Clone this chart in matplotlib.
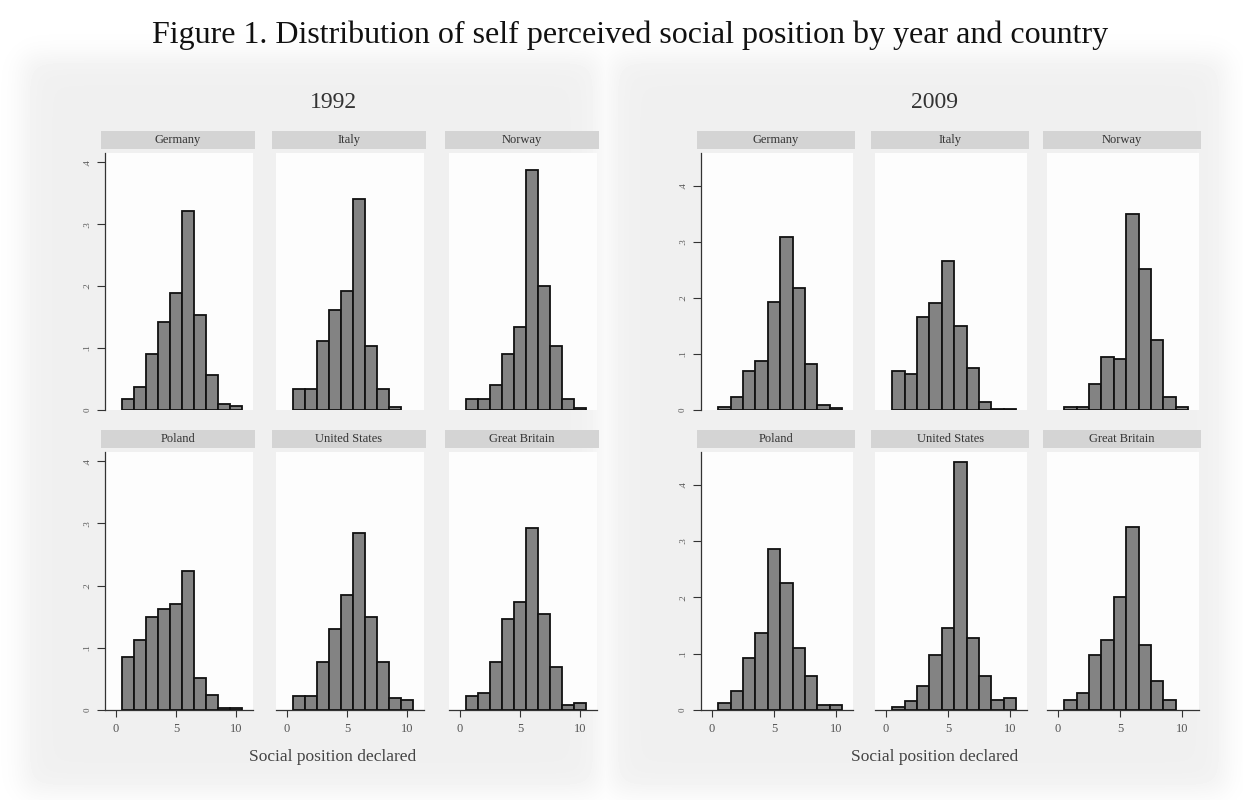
import numpy as np
import matplotlib.pyplot as plt

plt.rcParams['font.family'] = ['Liberation Serif', 'DejaVu Serif']

positions = np.arange(1, 11)
countries = ["Germany", "Italy", "Norway", "Poland", "United States", "Great Britain"]
years = ["1992", "2009"]

# density of answers 1..10, per country
germany_1992 = [0.017, 0.037, 0.091, 0.142, 0.189, 0.322, 0.153, 0.056, 0.009, 0.007]
italy_1992 = [0.034, 0.034, 0.111, 0.161, 0.192, 0.341, 0.103, 0.034, 0.005, 0.0]
norway_1992 = [0.017, 0.017, 0.041, 0.090, 0.134, 0.388, 0.200, 0.103, 0.017, 0.004]
poland_1992 = [0.085, 0.113, 0.150, 0.162, 0.171, 0.224, 0.051, 0.024, 0.004, 0.004]
usa_1992 = [0.023, 0.023, 0.077, 0.131, 0.185, 0.284, 0.150, 0.077, 0.019, 0.016]
britain_1992 = [0.023, 0.027, 0.077, 0.147, 0.174, 0.293, 0.154, 0.069, 0.008, 0.012]

germany_2009 = [0.006, 0.024, 0.069, 0.087, 0.192, 0.308, 0.218, 0.082, 0.009, 0.003]
italy_2009 = [0.069, 0.065, 0.166, 0.191, 0.265, 0.149, 0.074, 0.014, 0.001, 0.001]
norway_2009 = [0.005, 0.005, 0.047, 0.095, 0.091, 0.349, 0.251, 0.125, 0.024, 0.005]
poland_2009 = [0.013, 0.034, 0.093, 0.136, 0.285, 0.225, 0.110, 0.060, 0.009, 0.009]
usa_2009 = [0.005, 0.016, 0.043, 0.098, 0.145, 0.441, 0.128, 0.060, 0.018, 0.022]
britain_2009 = [0.018, 0.031, 0.098, 0.124, 0.200, 0.324, 0.115, 0.052, 0.018, 0.0]

data = {
    "1992": [germany_1992, italy_1992, norway_1992, poland_1992, usa_1992, britain_1992],
    "2009": [germany_2009, italy_2009, norway_2009, poland_2009, usa_2009, britain_2009],
}

yticks = [0, 0.1, 0.2, 0.3, 0.4]
ytick_labels = ["0", ".1", ".2", ".3", ".4"]
xticks = [0, 5, 10]

W, H = 1243, 800
fig = plt.figure(figsize=(W / 100, H / 100), dpi=100)
fig.patch.set_facecolor("white")


def rect(left, top, right, bottom):
    return [left / W, 1 - bottom / H, (right - left) / W, (bottom - top) / H]


# soft grey backdrop behind each year's graph
bg = fig.add_axes([0, 0, 1, 1], zorder=-10)
yy, xx = np.mgrid[0:H, 0:W]


def soft_box(x0, x1, y0, y1, s):
    fx = 1 / (1 + np.exp(-(xx - x0) / s)) * 1 / (1 + np.exp((xx - x1) / s))
    fy = 1 / (1 + np.exp(-(yy - y0) / s)) * 1 / (1 + np.exp((yy - y1) / s))
    return fx * fy


shade = np.maximum(soft_box(22, 600, 55, 792, 8), soft_box(610, 1226, 55, 792, 8))
img = 1 - 0.06 * shade
bg.imshow(img, cmap="gray", vmin=0, vmax=1, aspect="auto", extent=[0, W, H, 0])
bg.set_xlim(0, W)
bg.set_ylim(H, 0)
bg.axis("off")

fig.text(630 / W, 1 - 35 / H, "Figure 1. Distribution of self perceived social position by year and country",
         ha="center", va="center", fontsize=23, color="#111111")

layout = {
    "1992": dict(zeros=[116, 287, 460], unit=12.0, ytop=0.415, center=333),
    "2009": dict(zeros=[712, 886, 1058], unit=12.4, ytop=0.458, center=935),
}
rows = [(153, 410, 131, 149), (452, 710, 430, 448)]
xmin, xmax = -0.9, 11.4

for year in years:
    spec = layout[year]
    fig.text(spec["center"] / W, 1 - 102 / H, year, ha="center", va="center",
             fontsize=17, color="#333333")
    fig.text(spec["center"] / W, 1 - 757 / H, "Social position declared", ha="center",
             va="center", fontsize=12.5, color="#444444")
    for i, country in enumerate(countries):
        r, c = divmod(i, 3)
        top, bottom, htop, hbot = rows[r]
        left = spec["zeros"][c] + xmin * spec["unit"]
        right = spec["zeros"][c] + xmax * spec["unit"]

        # grey strip with the country name
        hx = fig.add_axes(rect(left - 4, htop, right + 2, hbot))
        hx.set_facecolor("#d4d4d4")
        hx.set_xticks([])
        hx.set_yticks([])
        for s in hx.spines.values():
            s.set_visible(False)
        hx.text(0.5, 0.5, country, ha="center", va="center", fontsize=9,
                color="#333333", transform=hx.transAxes)

        ax = fig.add_axes(rect(left, top, right, bottom))
        ax.set_facecolor("#fdfdfd")
        vals = np.array(data[year][i])
        keep = vals > 0
        ax.bar(positions[keep], vals[keep], width=1, color="#838383",
               edgecolor="#111111", linewidth=1.3, zorder=3)
        ax.set_xlim(xmin, xmax)
        ax.set_ylim(0, spec["ytop"])
        ax.spines["top"].set_visible(False)
        ax.spines["right"].set_visible(False)
        for s in ax.spines.values():
            s.set_color("#333333")
            s.set_linewidth(0.9)

        if c == 0:
            ax.set_yticks(yticks)
            ax.set_yticklabels(ytick_labels, rotation=90, va="center", fontsize=6.5,
                               color="#555555")
            ax.tick_params(axis="y", length=6, width=0.8, color="#333333", pad=4)
        else:
            ax.spines["left"].set_visible(False)
            ax.set_yticks([])

        if r == 1:
            ax.set_xticks(xticks)
            ax.set_xticklabels([str(t) for t in xticks], fontsize=9, color="#555555")
            ax.tick_params(axis="x", length=5, width=0.8, color="#333333", pad=4)
        else:
            ax.spines["bottom"].set_visible(False)
            ax.set_xticks([])

fig.savefig("out.png", dpi=100)
